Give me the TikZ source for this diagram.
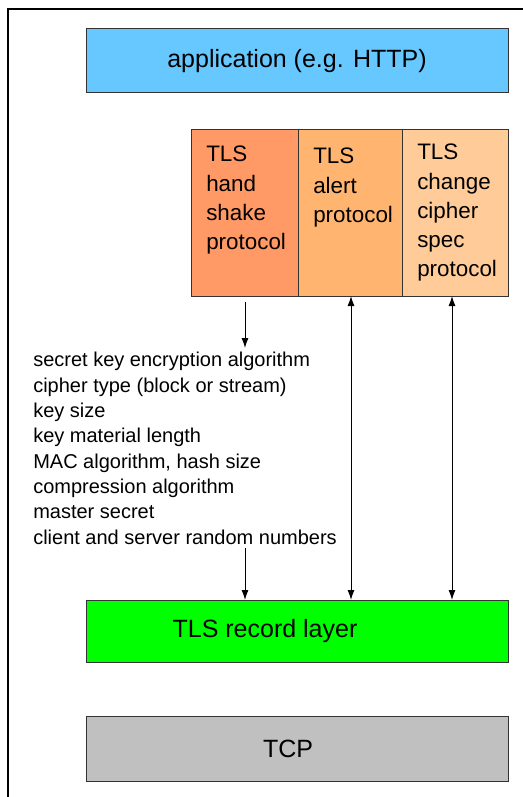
\documentclass[tikz,border=0pt]{standalone}
\usepackage{fontspec}
\setmainfont{Liberation Sans}
\usetikzlibrary{arrows.meta}
\definecolor{appblue}{HTML}{66C8FF}
\definecolor{hsorange}{HTML}{FF9966}
\definecolor{alorange}{HTML}{FFB570}
\definecolor{ccorange}{HTML}{FFCC99}
\definecolor{recgreen}{HTML}{00FF00}
\definecolor{tcpgray}{HTML}{C0C0C0}
\definecolor{edge}{HTML}{333333}
\begin{document}
\begin{tikzpicture}[x=0.75pt,y=-0.75pt,
  layer/.style={draw=edge,line width=0.75pt},
  boxtext/.style={anchor=north west,align=left,inner sep=0pt,
    font=\fontsize{16.8pt}{21.9pt}\selectfont},
  bigtext/.style={inner sep=0pt,font=\fontsize{18.75pt}{22pt}\selectfont},
  link/.style={line width=0.75pt,draw=black},
  tip/.tip={Latex[length=7.5pt,width=5.2pt]}]
  \useasboundingbox (0,0) rectangle (523,797);
  % frame
  \draw[line width=1pt] (523,9) -- (8,9) -- (8,797);
  % application layer
  \path[layer,fill=appblue] (86,28) rectangle (508,92);
  \node[bigtext] (app) at (297,61) {application (e.g. HTTP)};
  % TLS protocols
  \path[layer,fill=hsorange] (191,129) rectangle (298,296);
  \path[layer,fill=alorange] (298,129) rectangle (402,296);
  \path[layer,fill=ccorange] (402,129) rectangle (508,296);
  \node[boxtext] (hs) at (206,146) {TLS\\hand\\shake\\protocol};
  \node[boxtext] (al) at (313,148) {TLS\\alert\\protocol};
  \node[boxtext] (cc) at (417,144) {TLS\\change\\cipher\\spec\\protocol};
  \coordinate (hsb) at (245,302);
  \coordinate (alb) at (351,296);
  \coordinate (ccb) at (452,296);
  % negotiated parameters
  \node[anchor=north west,align=left,inner sep=0pt,
    font=\fontsize{15pt}{19pt}\selectfont] (params) at (33,352)
    {secret key encryption algorithm\\cipher type (block or stream)\\key size\\
     key material length\\MAC algorithm, hash size\\compression algorithm\\
     master secret\\client and server random numbers};
  \coordinate (pin) at (245,348);
  \coordinate (pout) at (245,548);
  % record layer
  \path[layer,fill=recgreen] (86,600) rectangle (508,662);
  \node[bigtext] (rec) at (265,631) {TLS record layer};
  \coordinate (rhs) at (245,600);
  \coordinate (ral) at (351,600);
  \coordinate (rcc) at (452,600);
  % TCP
  \path[layer,fill=tcpgray] (86,716) rectangle (508,781);
  \node[bigtext] (tcp) at (288,749) {TCP};
  % connectors
  \draw[link,-tip] (hsb) -- (pin);
  \draw[link,-tip] (pout) -- (rhs);
  \draw[link,tip-tip] (alb) -- (ral);
  \draw[link,tip-tip] (ccb) -- (rcc);
\end{tikzpicture}
\end{document}
